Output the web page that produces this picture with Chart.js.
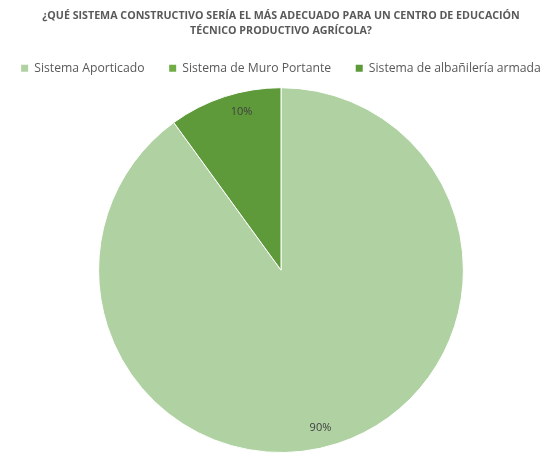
<!DOCTYPE html>
<html>
<head>
<meta charset="utf-8">
<script src="https://cdn.jsdelivr.net/npm/chart.js@4"></script>
<style>
  body { margin: 0; background: #fff; }
  #wrap { width: 558px; height: 457px; }
</style>
</head>
<body>
<div id="wrap"><canvas id="myChart"></canvas></div>
<script>
// datos
const categorias = ['Sistema Aporticado', 'Sistema de Muro Portante', 'Sistema de albañilería armada'];
const porcentajes = [90, 0, 10];
const colores = ['#b0d2a2', '#70ad47', '#5e9a3a'];
const titulo = ['¿QUÉ SISTEMA CONSTRUCTIVO SERÍA EL MÁS ADECUADO PARA UN CENTRO DE EDUCACIÓN', 'TÉCNICO PRODUCTIVO AGRÍCOLA?'];

// etiquetas dentro de la torta
const etiquetas = {
  id: 'etiquetas',
  afterDatasetsDraw(chart) {
    const ctx = chart.ctx;
    const meta = chart.getDatasetMeta(0);
    ctx.save();
    ctx.font = '11px "Open Sans", sans-serif';
    ctx.fillStyle = '#404040';
    ctx.textAlign = 'center';
    ctx.textBaseline = 'middle';
    meta.data.forEach((arc, i) => {
      if (!porcentajes[i]) return;
      const mid = (arc.startAngle + arc.endAngle) / 2;
      const r = arc.outerRadius;
      ctx.fillText(porcentajes[i] + '%', arc.x + Math.cos(mid) * r * 0.7, arc.y + Math.sin(mid) * r * 0.91);
    });
    ctx.restore();
  }
};

const ctx = document.getElementById('myChart');

new Chart(ctx, {
  type: 'pie',
  data: {
    labels: categorias,
    datasets: [{
      data: porcentajes,
      backgroundColor: colores,
      borderColor: '#ffffff',
      borderWidth: 1,
      radius: '98.4%'
    }]
  },
  options: {
    responsive: true,
    maintainAspectRatio: false,
    animation: false,
    layout: { padding: { left: 4, right: 0, top: 8, bottom: 1 } },
    plugins: {
      title: {
        display: true,
        text: titulo,
        color: '#595959',
        font: { family: '"Open Sans", sans-serif', size: 10.7, weight: 'bold', lineHeight: 1.45 },
        padding: { top: 0, bottom: 11 }
      },
      legend: {
        position: 'top',
        labels: {
          color: '#595959',
          font: { family: '"Open Sans", sans-serif', size: 12.2 },
          boxWidth: 7,
          boxHeight: 7,
          padding: 12,
          generateLabels(chart) {
            const items = Chart.overrides.pie.plugins.legend.labels.generateLabels(chart);
            items.forEach((it, i) => {
              it.lineWidth = 0;
              if (i < items.length - 1) it.text = it.text + '    ';
            });
            return items;
          }
        }
      },
      tooltip: { enabled: false }
    }
  },
  plugins: [etiquetas]
});
</script>
</body>
</html>
